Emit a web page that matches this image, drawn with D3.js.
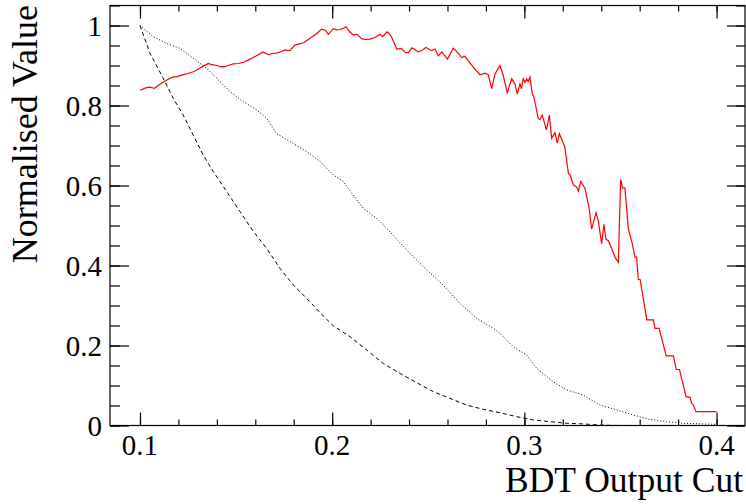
<!DOCTYPE html>
<html>
<head>
<meta charset="utf-8">
<script src="https://cdn.jsdelivr.net/npm/d3@7"></script>
</head>
<body style="margin:0">
<div id="chart"></div>
<script>
// red solid curve
var signifCut = [0.100, 0.103, 0.105, 0.1075, 0.110, 0.112, 0.1145, 0.117, 0.1195, 0.1225,
    0.125, 0.128, 0.130, 0.132, 0.1355, 0.1375, 0.140, 0.142, 0.144, 0.146,
    0.1485, 0.151, 0.154, 0.1565, 0.159, 0.1615, 0.164, 0.1668, 0.169, 0.171,
    0.1735, 0.1755, 0.178, 0.1806, 0.183, 0.185, 0.187, 0.189, 0.192, 0.1945,
    0.1965, 0.198, 0.2006, 0.2025, 0.204, 0.2055, 0.2072, 0.209, 0.211, 0.213,
    0.2153, 0.2175, 0.2197, 0.2223, 0.2249, 0.2263, 0.2284, 0.2297, 0.231, 0.2336,
    0.236, 0.2379, 0.2396, 0.2414, 0.243, 0.2448, 0.2468, 0.2488, 0.2517, 0.2535,
    0.2552, 0.257, 0.260, 0.263, 0.2656, 0.2673, 0.269, 0.2708, 0.2734, 0.2769,
    0.2795, 0.2812, 0.283, 0.2847, 0.2873, 0.289, 0.2911, 0.2934, 0.2951, 0.2963,
    0.2977, 0.2985, 0.2994, 0.3003, 0.3012, 0.302, 0.3029, 0.3041, 0.305, 0.3072,
    0.3081, 0.3093, 0.3115, 0.313, 0.3142, 0.3159, 0.3171, 0.3182, 0.321, 0.3229,
    0.3238, 0.3254, 0.3272, 0.3281, 0.3293, 0.3315, 0.3338, 0.335, 0.3373, 0.3385,
    0.3402, 0.3414, 0.3424, 0.3437, 0.3454, 0.3471, 0.3489, 0.3501, 0.3511, 0.3523,
    0.3541, 0.3562, 0.3575, 0.3584, 0.3593, 0.3602, 0.362, 0.3637, 0.3671, 0.368,
    0.3701, 0.3738, 0.3776, 0.379, 0.3807, 0.3827, 0.3841, 0.3862, 0.387, 0.3879,
    0.3893, 0.400];
var signifVal = [0.838, 0.844, 0.846, 0.843, 0.852, 0.858, 0.865, 0.871, 0.873, 0.877,
    0.880, 0.885, 0.890, 0.896, 0.905, 0.902, 0.900, 0.897, 0.897, 0.900,
    0.904, 0.905, 0.908, 0.914, 0.920, 0.927, 0.934, 0.927, 0.930, 0.931,
    0.935, 0.939, 0.937, 0.951, 0.954, 0.957, 0.963, 0.970, 0.980, 0.991,
    0.988, 0.978, 0.992, 0.989, 0.990, 0.992, 0.997, 0.985, 0.976, 0.978,
    0.967, 0.965, 0.966, 0.970, 0.978, 0.972, 0.984, 0.980, 0.970, 0.941,
    0.943, 0.933, 0.931, 0.944, 0.940, 0.934, 0.938, 0.945, 0.937, 0.941,
    0.924, 0.934, 0.916, 0.943, 0.931, 0.920, 0.923, 0.912, 0.896, 0.877,
    0.881, 0.877, 0.842, 0.879, 0.900, 0.875, 0.832, 0.867, 0.854, 0.829,
    0.854, 0.842, 0.867, 0.858, 0.867, 0.860, 0.871, 0.829, 0.821, 0.767,
    0.765, 0.776, 0.739, 0.776, 0.718, 0.732, 0.706, 0.730, 0.697, 0.631,
    0.627, 0.602, 0.596, 0.586, 0.610, 0.594, 0.540, 0.491, 0.532, 0.511,
    0.454, 0.503, 0.466, 0.462, 0.443, 0.421, 0.408, 0.615, 0.594, 0.594,
    0.491, 0.454, 0.421, 0.421, 0.365, 0.365, 0.314, 0.264, 0.264, 0.243,
    0.243, 0.174, 0.174, 0.140, 0.140, 0.101, 0.072, 0.0705, 0.0555, 0.051,
    0.0345, 0.0345];

// black dashed curve
var bkgEffCut = [0.100, 0.1052, 0.1121, 0.1173, 0.1225, 0.1277, 0.1329, 0.1381, 0.1451, 0.152,
    0.159, 0.1659, 0.1728, 0.1798, 0.1867, 0.1937, 0.2006, 0.2093, 0.2179, 0.2266,
    0.2353, 0.244, 0.2526, 0.2613, 0.270, 0.2786, 0.2873, 0.296, 0.3046, 0.3133,
    0.322, 0.3306, 0.3393, 0.350, 0.400];
var bkgEffVal = [1.000, 0.931, 0.868, 0.818, 0.776, 0.726, 0.676, 0.635, 0.585, 0.535,
    0.485, 0.443, 0.393, 0.351, 0.318, 0.282, 0.249, 0.222, 0.189, 0.155,
    0.130, 0.107, 0.0845, 0.068, 0.051, 0.0405, 0.032, 0.022, 0.014, 0.0095,
    0.0055, 0.004, 0.001, 0.000, 0.000];

// black dotted curve
var sigEffCut = [0.100, 0.1069, 0.1139, 0.1208, 0.1277, 0.1347, 0.1416, 0.1468, 0.1537, 0.1607,
    0.1659, 0.1711, 0.178, 0.1867, 0.1937, 0.2006, 0.2058, 0.2109, 0.2162, 0.2231,
    0.2301, 0.2405, 0.2492, 0.2578, 0.2665, 0.2752, 0.2838, 0.2873, 0.2942, 0.3012,
    0.3064, 0.315, 0.322, 0.3306, 0.3393, 0.348, 0.3567, 0.3653, 0.374, 0.3827,
    0.3914, 0.400];
var sigEffVal = [1.000, 0.972, 0.955, 0.943, 0.918, 0.893, 0.860, 0.835, 0.810, 0.789,
    0.768, 0.730, 0.710, 0.685, 0.660, 0.626, 0.610, 0.576, 0.543, 0.518,
    0.484, 0.430, 0.389, 0.351, 0.305, 0.268, 0.243, 0.2305, 0.197, 0.176,
    0.143, 0.1095, 0.089, 0.076, 0.051, 0.039, 0.026, 0.0155, 0.0095, 0.0055,
    0.004, 0.003];

var xTicks = [0.1, 0.2, 0.3, 0.4];
var yTicks = [0, 0.2, 0.4, 0.6, 0.8, 1];
var xTitle = "BDT Output Cut";
var yTitle = "Normalised Value";

var margin = {top: 5.5, right: 1, bottom: 78.5, left: 110};
var width = 746 - margin.left - margin.right;
var height = 504 - margin.top - margin.bottom;

var root = d3.select("#chart").append("svg")
    .attr("width", 746)
    .attr("height", 504);

var svg = root.append("g")
    .attr("transform", "translate(" + margin.left + "," + margin.top + ")");

var x = d3.scaleLinear()
    .domain([0.0844, 0.4148])
    .range([0, width]);

var y = d3.scaleLinear()
    .domain([0, 1.05])
    .range([height, 0]);

var xMinor = d3.range(0.1, 0.4001, 0.02);
var yMinor = d3.range(0, 1.0501, 0.05);

// ticks point inwards on all four sides, like ROOT
function styleAxis(g) {
    g.select(".domain").remove();
    g.selectAll("line").attr("stroke", "#000").attr("stroke-width", 1.2);
    g.selectAll("text").remove();
}

function tickLabels(vals, px, py, anchor) {
    root.selectAll(null)
        .data(vals)
        .enter().append("text")
        .attr("x", px)
        .attr("y", py)
        .attr("text-anchor", anchor)
        .attr("font-size", 29)
        .attr("font-family", "Liberation Serif")
        .text(function (d) { return String(d); });
}

svg.append("g")
    .attr("transform", "translate(0," + height + ")")
    .call(d3.axisBottom(x).tickValues(xMinor).tickSize(-6))
    .call(styleAxis);
svg.append("g")
    .attr("transform", "translate(0," + height + ")")
    .call(d3.axisBottom(x).tickValues(xTicks).tickSize(-13))
    .call(styleAxis);
svg.append("g")
    .call(d3.axisTop(x).tickValues(xMinor).tickSize(-6))
    .call(styleAxis);
svg.append("g")
    .call(d3.axisTop(x).tickValues(xTicks).tickSize(-13))
    .call(styleAxis);
svg.append("g")
    .call(d3.axisLeft(y).tickValues(yMinor).tickSize(-10))
    .call(styleAxis);
svg.append("g")
    .call(d3.axisLeft(y).tickValues(yTicks).tickSize(-19))
    .call(styleAxis);
svg.append("g")
    .attr("transform", "translate(" + width + ",0)")
    .call(d3.axisRight(y).tickValues(yMinor).tickSize(-9))
    .call(styleAxis);
svg.append("g")
    .attr("transform", "translate(" + width + ",0)")
    .call(d3.axisRight(y).tickValues(yTicks).tickSize(-18))
    .call(styleAxis);

// tick labels placed from the scales
tickLabels(xTicks, function (d) { return margin.left + x(d); }, 455, "middle");
tickLabels(yTicks, 102, function (d) { return margin.top + y(d) + 10; }, "end");

svg.append("rect")
    .attr("x", 0)
    .attr("y", 0)
    .attr("width", width)
    .attr("height", height)
    .attr("fill", "none")
    .attr("stroke", "#000")
    .attr("stroke-width", 1.2);

var line = d3.line()
    .x(function (d) { return x(d[0]); })
    .y(function (d) { return y(d[1]); });

svg.append("path")
    .datum(d3.zip(sigEffCut, sigEffVal))
    .attr("d", line)
    .attr("fill", "none")
    .attr("stroke", "#000")
    .attr("stroke-width", 1)
    .attr("stroke-dasharray", "1,2");

svg.append("path")
    .datum(d3.zip(bkgEffCut, bkgEffVal))
    .attr("d", line)
    .attr("fill", "none")
    .attr("stroke", "#000")
    .attr("stroke-width", 1)
    .attr("stroke-dasharray", "4,3");

svg.append("path")
    .datum(d3.zip(signifCut, signifVal))
    .attr("d", line)
    .attr("fill", "none")
    .attr("stroke", "#ff0000")
    .attr("stroke-width", 1.2);

root.append("text")
    .attr("x", 743)
    .attr("y", 491.5)
    .attr("text-anchor", "end")
    .attr("font-size", 35.5)
    .attr("font-family", "Liberation Serif")
    .text(xTitle);

root.append("text")
    .attr("transform", "translate(36.5,5) rotate(-90)")
    .attr("text-anchor", "end")
    .attr("font-size", 36)
    .attr("font-family", "Liberation Serif")
    .text(yTitle);
</script>
</body>
</html>
